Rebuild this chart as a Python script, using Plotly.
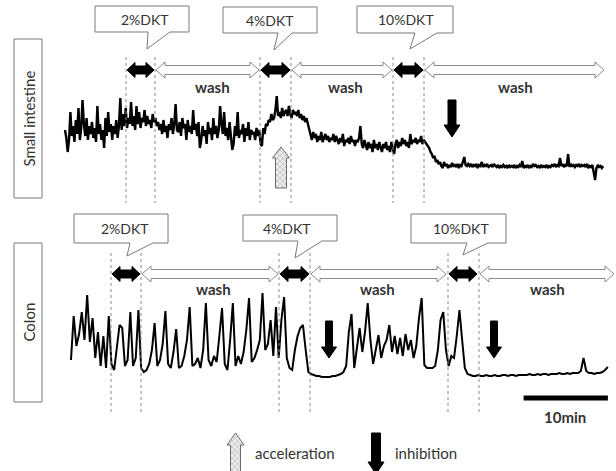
import plotly.graph_objects as go

W, H = 616, 471
PX_PER_MIN = 8.43
DT_SI = 0.16   # sampling interval small intestine (min)
DT_CO = 0.32   # sampling interval colon (min)

# ---------------- data ----------------
small_intestine = [
    40, 32, 18, 30, 58, 34, 44, 28, 50, 36, 62, 30, 42, 70, 46, 34, 52, 30, 44, 36,
    48, 32, 42, 28, 64, 36, 46, 30, 40, 22, 52, 34, 58, 38, 46, 30, 44, 36, 50, 32,
    44, 72, 40, 56, 44, 62, 42, 52, 46, 68, 44, 54, 40, 64, 46, 58, 42, 52, 48, 60,
    44, 54, 46, 50, 42, 56, 48, 52, 44, 48, 40, 46, 36, 50, 38, 44, 32, 46, 40, 52,
    36, 46, 66, 40, 38, 48, 34, 52, 42, 46, 30, 50, 38, 44, 36, 60, 40, 46, 34, 48,
    22, 30, 44, 34, 40, 26, 48, 36, 42, 30, 52, 36, 44, 32, 40, 64, 46, 36, 58, 34,
    42, 30, 48, 36, 20, 26, 44, 34, 58, 32, 40, 36, 46, 28, 42, 34, 48, 30, 40, 36,
    38, 30, 42, 34, 40, 26, 24, 42, 36, 46, 44, 50, 48, 56, 50, 52, 60, 74, 54, 58,
    52, 62, 54, 58, 60, 54, 64, 56, 52, 60, 56, 58, 54, 60, 52, 56, 50, 54, 48, 52,
    46, 40, 36, 30, 38, 32, 36, 28, 34, 30, 38, 28, 32, 36, 30, 34, 28, 32, 30, 36,
    28, 34, 30, 26, 32, 28, 36, 24, 30, 28, 32, 26, 34, 28, 30, 24, 30, 28, 32, 44,
    26, 22, 30, 24, 20, 28, 22, 26, 18, 30, 22, 26, 20, 28, 24, 18, 26, 22, 28, 20,
    24, 18, 28, 22, 16, 26, 30, 22, 28, 24, 32, 26, 30, 24, 28, 22, 36, 26, 30, 28,
    32, 26, 30, 28, 34, 26, 30, 28, 26, 24, 22, 18, 16, 12, 14, 8, 10, 6, 8, 4,
    2, 8, 4, 6, 2, 5, 3, 7, 4, 5, 3, 6, 2, 5, 4, 8, 13, 5, 4, 6,
    4, 6, 3, 5, 4, 6, 2, 5, 4, 8, 3, 5, 4, 6, 3, 4, 5, 3, 6, 4,
    3, 5, 2, 4, 3, 5, 3, 4, 2, 5, 3, 4, 3, 5, 2, 4, 3, 5, 3, 9,
    2, 4, 3, 5, 2, 4, 3, 6, 4, 5, 3, 4, 2, 5, 3, 4, 3, 5, 2, 4,
    3, 5, 4, 6, 3, 5, 4, 12, 4, 6, 3, 5, 4, 16, 3, 6, 4, 5, 3, 5,
    4, 6, 3, 5, 4, 5, 3, 6, 2, 4, 3, 5, -4, -10, 2, 5, 3, 4, 2, 4,
]
colon = [
    20, 64, 34, 46, 68, 40, 85, 38, 62, 22,
    48, 14, 44, 12, 64, 16, 10, 36, 55, 52,
    14, 20, 68, 14, 22, 70, 12, 8, 10, 16,
    30, 57, 14, 20, 36, 69, 16, 12, 28, 51,
    12, 14, 24, 40, 73, 14, 16, 22, 12, 30,
    77, 20, 14, 24, 18, 44, 72, 16, 10, 40,
    77, 14, 24, 16, 28, 50, 82, 18, 22, 30,
    40, 87, 30, 36, 60, 24, 73, 22, 60, 83,
    22, 12, 10, 30, 44, 52, 55, 30, 8, 6,
    5, 4, 4, 3, 3, 3, 3, 4, 4, 5,
    6, 8, 14, 48, 66, 12, 30, 52, 28, 48,
    77, 40, 16, 30, 45, 22, 34, 40, 55, 28,
    44, 26, 42, 24, 46, 30, 40, 22, 34, 62,
    82, 15, 12, 12, 12, 14, 30, 60, 68, 30,
    14, 24, 22, 44, 70, 40, 12, 6, 5, 4,
    4, 5, 4, 4, 5, 4, 4, 5, 4, 4,
    5, 5, 4, 5, 5, 4, 5, 5, 5, 5,
    6, 5, 5, 6, 5, 6, 6, 5, 6, 6,
    6, 7, 6, 6, 7, 6, 7, 7, 7, 9,
    22, 9, 7, 7, 6, 7, 7, 8, 10, 13,
]
colon_start_min = 0.71
treatments = ["2%DKT", "4%DKT", "10%DKT"]
wash_label = "wash"
tissues = ["Small intestine", "Colon"]
legend_labels = ["acceleration", "inhibition"]
scale_bar_min = 10
scale_bar_start_min = 54.4

t_si = [i * DT_SI for i in range(len(small_intestine))]
t_co = [colon_start_min + i * DT_CO for i in range(len(colon))]

# ---------------- helpers (pixel -> paper) ----------------
def X(px):
    return px / W

def Y(py):
    return 1 - py / H

def path(points):
    return "M " + " L ".join(f"{X(x):.5f},{Y(y):.5f}" for x, y in points) + " Z"

def dbl_arrow(xa, xb, yc, hl, hh, sh):
    return path([(xa, yc), (xa + hl, yc - hh), (xa + hl, yc - sh), (xb - hl, yc - sh),
                 (xb - hl, yc - hh), (xb, yc), (xb - hl, yc + hh), (xb - hl, yc + sh),
                 (xa + hl, yc + sh), (xa + hl, yc + hh)])

def down_arrow(xc, y0, yh, yt, sw, hw):
    return path([(xc - sw, y0), (xc + sw, y0), (xc + sw, yh), (xc + hw, yh), (xc, yt),
                 (xc - hw, yh), (xc - sw, yh)])

def up_arrow_pts(xc, yt, yh, y1, sw, hw):
    return [(xc, yt), (xc + hw, yh), (xc + sw, yh), (xc + sw, y1), (xc - sw, y1),
            (xc - sw, yh), (xc - hw, yh), (xc, yt)]

def callout(x0, y0, x1, y1, tl, tr, tip):
    return path([(x0, y0), (x1, y0), (x1, y1), (tr, y1), tip, (tl, y1), (x0, y1)])

fig = go.Figure()
fig.add_trace(go.Scatter(x=t_si, y=small_intestine, mode="lines",
                         line=dict(color="black", width=2.4), yaxis="y", hoverinfo="skip"))
fig.add_trace(go.Scatter(x=t_co, y=colon, mode="lines",
                         line=dict(color="black", width=2), yaxis="y2", hoverinfo="skip"))
fig.add_trace(go.Scatter(x=[scale_bar_start_min, scale_bar_start_min + scale_bar_min], y=[-18, -18],
                         mode="lines", line=dict(color="black", width=5), yaxis="y2", hoverinfo="skip"))

# acceleration arrows (patterned glyphs, drawn in pixel space)
for xc, yt, yh, y1, sw, hw in [(281, 147, 158, 188, 5.5, 8.5), (235.5, 433, 445, 472, 5, 8.5)]:
    pts = up_arrow_pts(xc, yt, yh, y1, sw, hw)
    fig.add_trace(go.Scatter(x=[p[0] for p in pts], y=[p[1] for p in pts], xaxis="x3", yaxis="y3",
                             mode="lines", fill="toself", fillcolor="#d0d0d0",
                             fillpattern=dict(shape="x", size=4, solidity=0.35, fgcolor="#8c8c8c",
                                              bgcolor="#ececec"),
                             line=dict(color="#6a6a6a", width=1), hoverinfo="skip"))

shapes = []
annotations = []
font = "Lato, 'Open Sans', sans-serif"
txt = "#333333"
grey = "#7a7a7a"

def label(x, y, text, size, **kw):
    d = dict(x=X(x), y=Y(y), xref="paper", yref="paper", text=text, showarrow=False,
             xanchor="center", yanchor="middle", font=dict(family=font, size=size, color=txt))
    d.update(kw)
    annotations.append(d)

# tissue label boxes
for (y0, y1), name in zip([(39, 198), (243, 402)], tissues):
    shapes.append(dict(type="rect", xref="paper", yref="paper", x0=X(14), x1=X(42), y0=Y(y1), y1=Y(y0),
                       line=dict(color=grey, width=1), fillcolor="white"))
    label(28, (y0 + y1) / 2, name, 15, textangle=-90)

# dotted lines
for xs, (ya, yb) in [([126, 155, 260, 291, 393, 424], (57, 203)),
                     ([111, 141, 279, 310, 448, 479], (253, 413))]:
    for x in xs:
        shapes.append(dict(type="line", xref="paper", yref="paper", x0=X(x), x1=X(x), y0=Y(ya), y1=Y(yb),
                           line=dict(color="#8a8a8a", width=1, dash="dot")))

# callouts
callouts = [
    (95, 6, 189, 32, 148, 170, (147, 49), (145, 20)),
    (223, 7, 317, 33, 278, 292, (274, 50), (270, 21)),
    (357, 6, 453, 33, 415, 437, (410, 49), (406, 20)),
    (74, 214, 168, 243, 130, 153, (127, 256), (125, 228)),
    (243, 215, 337, 241, 298, 322, (295, 258), (287, 228)),
    (411, 214, 506, 243, 467, 488, (463, 255), (461, 228)),
]
for (x0, y0, x1, y1, tl, tr, tip, tpos), lab in zip(callouts, treatments * 2):
    shapes.append(dict(type="path", xref="paper", yref="paper", path=callout(x0, y0, x1, y1, tl, tr, tip),
                       line=dict(color=grey, width=1), fillcolor="white"))
    label(tpos[0], tpos[1], lab, 14)

# double arrows
for yc, blacks, whites in [
    (70, [(127, 154), (261, 290), (394, 423)], [(156, 259), (292, 392), (425, 604)]),
    (274, [(112, 140), (280, 309), (449, 477)], [(142, 278), (311, 446), (480, 614)]),
]:
    for xa, xb in blacks:
        shapes.append(dict(type="path", xref="paper", yref="paper", path=dbl_arrow(xa, xb, yc, 8, 7.5, 4),
                           line=dict(color="black", width=1), fillcolor="black"))
    for xa, xb in whites:
        shapes.append(dict(type="path", xref="paper", yref="paper", path=dbl_arrow(xa, xb, yc, 9, 8, 4.5),
                           line=dict(color="#8a8a8a", width=1), fillcolor="white"))

# wash labels
for x, y in [(212, 87), (345, 87), (515, 87), (213, 289), (377, 289), (547, 289)]:
    label(x, y, f"<b>{wash_label}</b>", 15)

# inhibition arrows
for xc, y0, yh, yt, sw, hw in [(452, 100, 125, 137, 4, 8), (329, 321, 347, 358, 3.5, 7.5),
                               (494, 321, 347, 358, 3.5, 7.5), (376, 433, 462, 474, 4.5, 8)]:
    shapes.append(dict(type="path", xref="paper", yref="paper", path=down_arrow(xc, y0, yh, yt, sw, hw),
                       line=dict(color="black", width=1), fillcolor="black"))

# legend text
label(253, 453, legend_labels[0], 15, xanchor="left")
label(393, 453, legend_labels[1], 15, xanchor="left")
# scale bar label
label(565, 417, f"<b>{scale_bar_min}min</b>", 15)

fig.update_layout(
    width=W, height=H, margin=dict(l=0, r=0, t=0, b=0, pad=0),
    paper_bgcolor="white", plot_bgcolor="white", showlegend=False,
    xaxis=dict(range=[-65 / PX_PER_MIN, (W - 65) / PX_PER_MIN], visible=False, domain=[0, 1]),
    yaxis=dict(range=[170 - H, 170], visible=False, domain=[0, 1]),
    yaxis2=dict(range=[380 - H, 380], visible=False, overlaying="y"),
    xaxis3=dict(range=[0, W], visible=False, overlaying="x"),
    yaxis3=dict(range=[H, 0], visible=False, overlaying="y"),
    shapes=shapes, annotations=annotations,
)
fig.write_html("out.html", config={"displayModeBar": False},
               post_script="document.body.style.margin='0';document.body.style.overflow='hidden';")
